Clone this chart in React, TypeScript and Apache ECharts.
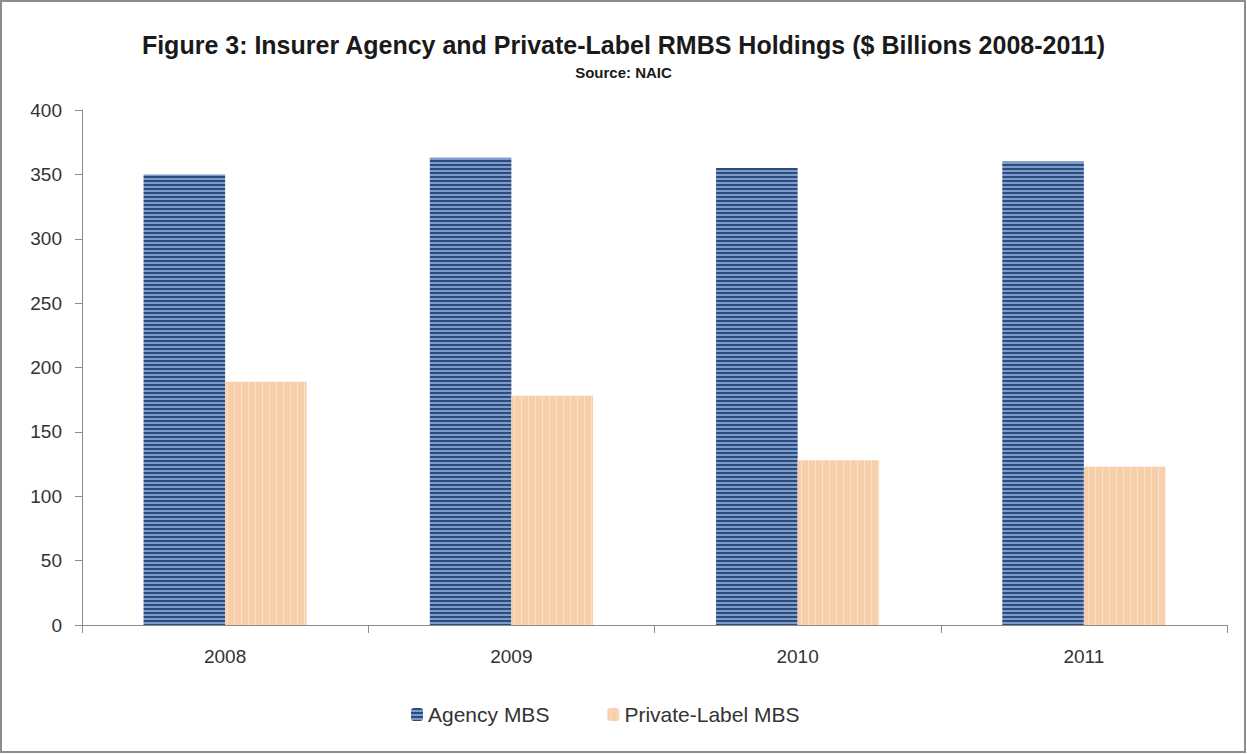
import React, { useEffect, useRef } from "react";
import * as echarts from "echarts";

const categories = ["2008", "2009", "2010", "2011"];
const agencyMBS = [350, 363, 355, 360];
const privateLabelMBS = [189, 178, 128, 123];
const seriesNames = ["Agency MBS", "Private-Label MBS"];
const titleText = "Figure 3: Insurer Agency and Private-Label RMBS Holdings ($ Billions 2008-2011)";
const subtitleText = "Source: NAIC";

function makeHStripe(): HTMLCanvasElement {
  const c = document.createElement("canvas");
  c.width = 8;
  c.height = 4;
  const ctx = c.getContext("2d")!;
  ctx.fillStyle = "#2d4c7e";
  ctx.fillRect(0, 0, 8, 2);
  ctx.fillStyle = "#7d9bcb";
  ctx.fillRect(0, 2, 8, 2);
  return c;
}

function makeVStripe(): HTMLCanvasElement {
  const c = document.createElement("canvas");
  c.width = 7;
  c.height = 8;
  const ctx = c.getContext("2d")!;
  ctx.fillStyle = "#f8cfab";
  ctx.fillRect(0, 0, 7, 8);
  ctx.fillStyle = "#fbe1c9";
  ctx.fillRect(3, 0, 1, 8);
  return c;
}

export default function App() {
  const ref = useRef<HTMLDivElement>(null);
  useEffect(() => {
    if (!ref.current) return;
    const chart = echarts.init(ref.current, undefined, { renderer: "svg" });
    const font = "'Liberation Sans', Arial, sans-serif";
    chart.setOption({
      animation: false,
      backgroundColor: "#ffffff",
      textStyle: { fontFamily: font },
      title: [
        {
          text: titleText,
          left: "center",
          top: 27,
          textStyle: { fontSize: 25, fontWeight: "bold", color: "#1a1a1a", fontFamily: font },
        },
        {
          text: subtitleText,
          left: "center",
          top: 60,
          textStyle: { fontSize: 15, fontWeight: "bold", color: "#1a1a1a", fontFamily: font },
        },
      ],
      graphic: [
        {
          type: "rect",
          shape: { x: 1, y: 1, width: 1244, height: 751 },
          style: { fill: "none", stroke: "#8c8c8c", lineWidth: 2 },
          silent: true,
        },
      ],
      legend: {
        bottom: 24,
        left: 406,
        itemWidth: 12,
        itemHeight: 13,
        itemGap: 58,
        textStyle: { fontSize: 21, color: "#333333", fontFamily: font },
        data: seriesNames,
      },
      grid: { left: 82, right: 20, top: 110, bottom: 129, containLabel: false },
      xAxis: {
        type: "category",
        data: categories,
        axisLine: { lineStyle: { color: "#8c8c8c", width: 1 } },
        axisTick: { show: true, length: 8, lineStyle: { color: "#8c8c8c" } },
        axisLabel: { fontSize: 19, color: "#333333", margin: 22, fontFamily: font },
      },
      yAxis: {
        type: "value",
        min: 0,
        max: 400,
        interval: 50,
        axisLine: { show: true, lineStyle: { color: "#8c8c8c", width: 1 } },
        axisTick: { show: true, length: 7, lineStyle: { color: "#8c8c8c" } },
        splitLine: { show: false },
        axisLabel: { fontSize: 19, color: "#333333", margin: 20, fontFamily: font },
      },
      series: [
        {
          name: seriesNames[0],
          type: "bar",
          data: agencyMBS,
          barGap: "0%",
          barCategoryGap: "43%",
          itemStyle: { color: { image: makeHStripe(), repeat: "repeat" } as any },
        },
        {
          name: seriesNames[1],
          type: "bar",
          data: privateLabelMBS,
          itemStyle: { color: { image: makeVStripe(), repeat: "repeat" } as any },
        },
      ],
    });
    return () => chart.dispose();
  }, []);
  return (
    <div
      ref={ref}
      style={{ position: "absolute", left: 0, top: 0, width: 1247, height: 754 }}
    />
  );
}
